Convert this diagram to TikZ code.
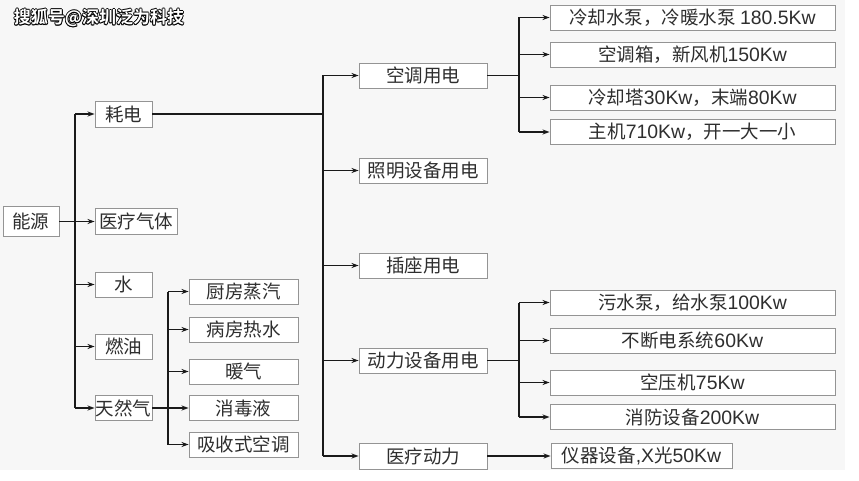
\documentclass[tikz,border=0pt]{standalone}
\usepackage{fontspec}
\setmainfont{Noto Sans CJK SC}
\newfontfamily\wmfont{Noto Sans CJK SC Bold}
\newfontfamily\latfont[Scale=1.05]{Liberation Sans}
\newcommand\lt[1]{{\latfont #1}}
\usetikzlibrary{arrows.meta}
\definecolor{bg}{HTML}{F7F7F7}
\definecolor{boxgray}{HTML}{949494}
\definecolor{txt}{HTML}{2E2E2E}
\definecolor{lin}{HTML}{1A1A1A}
\begin{document}
\begin{tikzpicture}[x=1pt,y=-1pt,
  box/.style={draw=boxgray,line width=0.9pt,fill=white,inner sep=0pt,text=txt,
    font=\fontsize{18.5}{18.5}\selectfont,minimum height=25pt},
  conn/.style={line width=1.6pt,draw=lin},
  arr/.style={conn,-{Stealth[length=7pt,width=5pt]}},
  wm/.style={font=\wmfont\fontsize{17}{17}\selectfont,inner sep=0pt}]
\useasboundingbox (0,0) rectangle (859,481);
\fill[bg] (0,0) rectangle (845,470);
% watermark
\foreach \dx/\dy [count=\i] in {-0.8/0,0.8/0,0/-0.8,0/0.8,-0.6/-0.6,0.6/0.6,-0.6/0.6,0.6/-0.6}
  \node[wm,text=black] (wmo\i) at (99+\dx,18+\dy) {搜狐号@深圳泛为科技};
\node[wm,text=white] (wm) at (99,18) {搜狐号@深圳泛为科技};
% level 0/1
\node[box,minimum width=56pt,minimum height=30pt] (ny) at (31,221.5) {能源};
\node[box,minimum width=57pt,minimum height=26pt] (hd) at (123.5,114) {耗电};
\node[box,minimum width=82pt,minimum height=26pt] (yq) at (136,221.5) {医疗气体};
\node[box,minimum width=57pt] (sh) at (123.5,284.5) {水};
\node[box,minimum width=57pt] (ry) at (123.5,346.5) {燃油};
\node[box,minimum width=57pt] (tr) at (123.5,408) {天然气};
% gas children
\node[box,minimum width=109pt] (cf) at (243.5,291.5) {厨房蒸汽};
\node[box,minimum width=109pt] (bf) at (243.5,329.5) {病房热水};
\node[box,minimum width=109pt] (nq) at (243.5,371.5) {暖气};
\node[box,minimum width=109pt] (xd) at (243.5,408) {消毒液};
\node[box,minimum width=109pt] (xs) at (243.5,444.5) {吸收式空调};
% level 2
\node[box,minimum width=128pt] (kt) at (423,75.5) {空调用电};
\node[box,minimum width=128pt] (zm) at (423,170.5) {照明设备用电};
\node[box,minimum width=128pt] (cz) at (423,265.5) {插座用电};
\node[box,minimum width=128pt] (dl) at (423,360.5) {动力设备用电};
\node[box,minimum width=128pt,minimum height=26pt] (yl) at (423,456) {医疗动力};
% level 3
\node[box,minimum width=285pt] (a1) at (692.5,17.5) {冷却水泵，冷暖水泵 \lt{180.5Kw}};
\node[box,minimum width=285pt] (a2) at (692.5,54.5) {空调箱，新风机\lt{150Kw}};
\node[box,minimum width=285pt] (a3) at (692.5,97.5) {冷却塔\lt{30Kw}，末端\lt{80Kw}};
\node[box,minimum width=285pt] (a4) at (692.5,132) {主机\lt{710Kw}，开一大一小};
\node[box,minimum width=285pt] (b1) at (692.5,302.5) {污水泵，给水泵\lt{100Kw}};
\node[box,minimum width=285pt] (b2) at (692.5,340.5) {不断电系统\lt{60Kw}};
\node[box,minimum width=285pt] (b3) at (692.5,382.5) {空压机\lt{75Kw}};
\node[box,minimum width=285pt] (b4) at (692.5,417) {消防设备\lt{200Kw}};
\node[box,minimum width=181pt] (c1) at (641.5,456) {仪器设备\lt{,X}光\lt{50Kw}};
% trunk coordinates
\coordinate (t1) at (75,0);
\coordinate (t2) at (168,0);
\coordinate (t3) at (323,0);
\coordinate (t4) at (519,0);
% connectors level 1
\draw[arr] (ny.east) -- (yq.west);
\draw[conn] (t1 |- hd.west) -- (t1 |- tr.west);
\foreach \n in {hd,sh,ry,tr} \draw[arr] (t1 |- \n.west) -- (\n.west);
% gas
\draw[arr] (tr.east) -- (xd.west);
\draw[conn] (t2 |- cf.west) -- (t2 |- xs.west);
\foreach \n in {cf,bf,nq,xs} \draw[arr] (t2 |- \n.west) -- (\n.west);
% power
\draw[conn] (hd.east) -- (t3 |- hd.east);
\draw[conn] (t3 |- kt.west) -- (t3 |- yl.west);
\foreach \n in {kt,zm,cz,dl,yl} \draw[arr] (t3 |- \n.west) -- (\n.west);
% air conditioning
\draw[conn] (kt.east) -- (t4 |- kt.east);
\draw[conn] (t4 |- a1.west) -- (t4 |- a4.west);
\foreach \n in {a1,a2,a3,a4} \draw[arr] (t4 |- \n.west) -- (\n.west);
% power equipment
\draw[conn] (dl.east) -- (t4 |- dl.east);
\draw[conn] (t4 |- b1.west) -- (t4 |- b4.west);
\foreach \n in {b1,b2,b3,b4} \draw[arr] (t4 |- \n.west) -- (\n.west);
% medical
\draw[arr] (yl.east) -- (c1.west);
\end{tikzpicture}
\end{document}
